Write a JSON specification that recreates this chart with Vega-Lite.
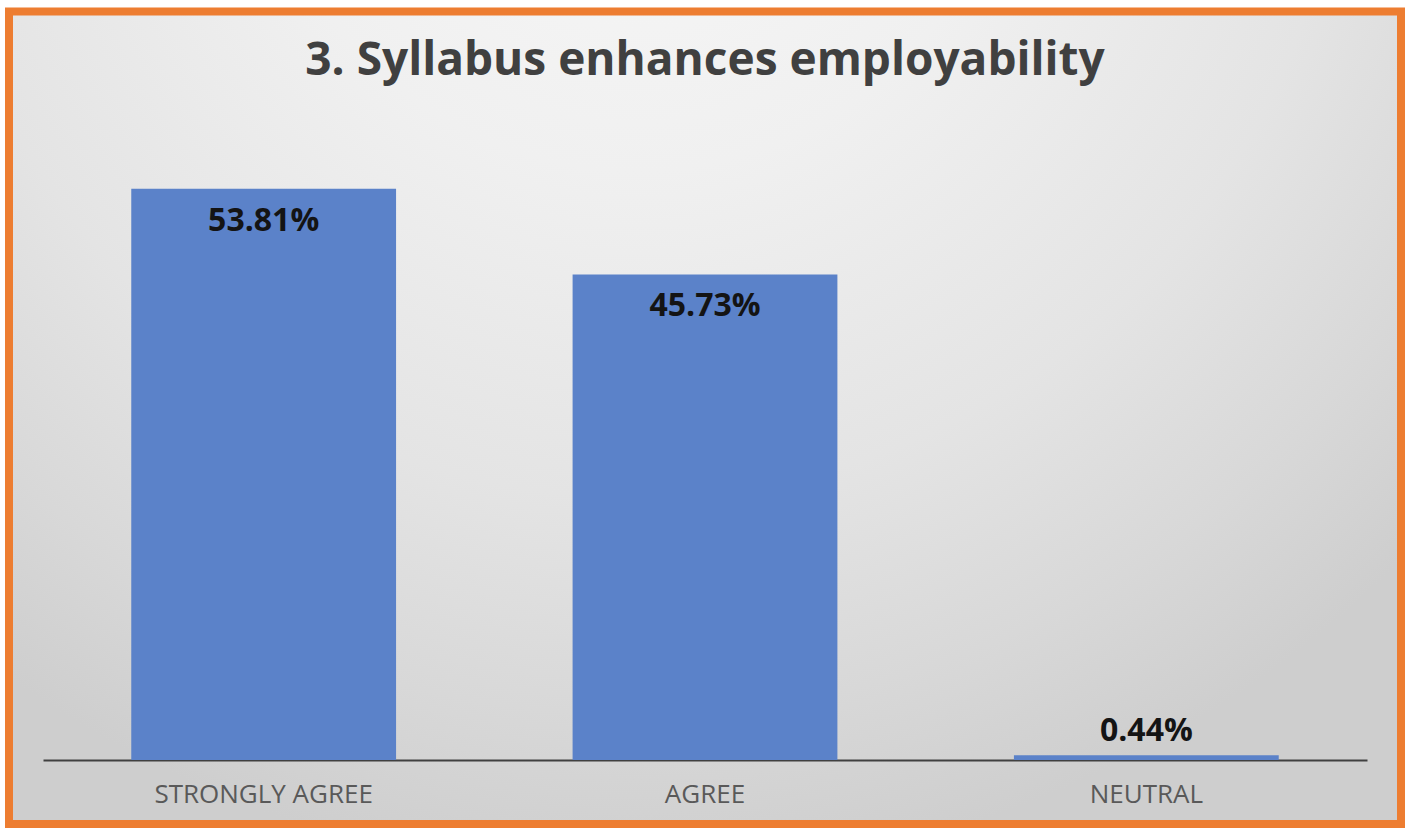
{
  "$schema": "https://vega.github.io/schema/vega-lite/v6.json",
  "width": 1392,
  "height": 812.5,
  "autosize": {"type": "none"},
  "padding": {"left": 9, "top": 11.5, "right": 9, "bottom": 4},
  "background": "#ffffff",
  "title": {
    "text": "3. Syllabus enhances employability",
    "font": "Open Sans",
    "fontSize": 46,
    "fontWeight": "bold",
    "color": "#404040",
    "anchor": "middle",
    "frame": "group",
    "baseline": "alphabetic",
    "offset": -109.5
  },
  "config": {
    "view": {
      "stroke": "#ED7D31",
      "strokeWidth": 8,
      "fill": {
        "gradient": "radial",
        "x1": 0.45, "y1": 0.05, "r1": 0,
        "x2": 0.45, "y2": 0.05, "r2": 0.78,
        "stops": [
          {"offset": 0, "color": "#f8f8f8"},
          {"offset": 0.35, "color": "#f0f0f0"},
          {"offset": 0.65, "color": "#e4e4e4"},
          {"offset": 0.85, "color": "#d8d8d8"},
          {"offset": 1, "color": "#cecece"}
        ]
      }
    }
  },
  "data": {
    "values": [
      {"response": "STRONGLY AGREE", "value": 53.81, "label": "53.81%"},
      {"response": "AGREE", "value": 45.73, "label": "45.73%"},
      {"response": "NEUTRAL", "value": 0.44, "label": "0.44%"}
    ]
  },
  "encoding": {
    "x": {
      "field": "response",
      "type": "nominal",
      "sort": null,
      "scale": {"range": [34, 1358], "paddingInner": 0.4, "paddingOuter": 0.2},
      "axis": {
        "title": null,
        "orient": "bottom",
        "offset": -64,
        "labelAngle": 0,
        "ticks": false,
        "domainColor": "#404040",
        "domainWidth": 2,
        "labelFont": "Open Sans",
        "labelFontSize": 26,
        "labelColor": "#595959",
        "labelPadding": 21,
        "labelLimit": 0
      }
    },
    "y": {
      "field": "value",
      "type": "quantitative",
      "scale": {"domain": [0, 70.5], "range": [748.5, 0], "nice": false},
      "axis": null
    }
  },
  "layer": [
    {"mark": {"type": "bar", "color": "#5B82C9"}},
    {
      "transform": [{"filter": "datum.value > 5"}],
      "mark": {"type": "text", "font": "Open Sans", "fontSize": 32, "fontWeight": "bold", "color": "#141414", "baseline": "middle", "dy": 32},
      "encoding": {"text": {"field": "label"}}
    },
    {
      "transform": [{"filter": "datum.value <= 5"}],
      "mark": {"type": "text", "font": "Open Sans", "fontSize": 32, "fontWeight": "bold", "color": "#141414", "baseline": "middle", "dy": -24},
      "encoding": {"text": {"field": "label"}}
    }
  ]
}
